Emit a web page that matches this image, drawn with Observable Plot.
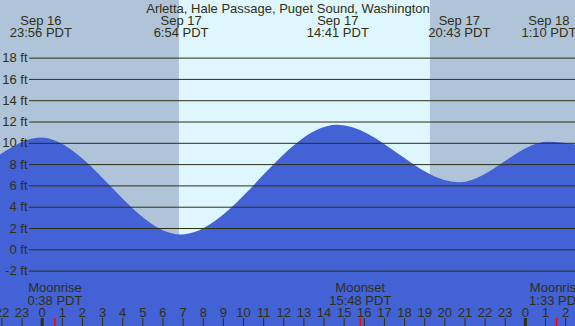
<!DOCTYPE html>
<html>
<head>
<meta charset="utf-8">
<script src="https://cdn.jsdelivr.net/npm/d3@7"></script>
<script src="https://cdn.jsdelivr.net/npm/@observablehq/plot@0.6"></script>
<style>
  html, body { margin: 0; padding: 0; background: #fff; }
  svg { display: block; }
</style>
</head>
<body>
<div id="chart"></div>
<script>
// ---- data (hours measured from Sep 17 00:00 PDT) ----
const title = "Arletta, Hale Passage, Puget Sound, Washington";

// tide curve readings: chart edges + highs/lows
const tideHours = [-2.07, -0.067, 6.9, 14.683, 20.717, 25.167, 26.49];
const tideFeet  = [8.9, 10.5, 1.4, 11.7, 6.3, 10.1, 9.85];

// labelled high/low events
const eventHours = [-0.067, 6.9, 14.683, 20.717, 25.167];
const eventDates = ["Sep 16", "Sep 17", "Sep 17", "Sep 17", "Sep 18"];
const eventTimes = ["23:56 PDT", "6:54 PDT", "14:41 PDT", "20:43 PDT", "1:10 PDT"];

// moon events
const moonHours = [0.633, 15.8, 25.55];
const moonNames = ["Moonrise", "Moonset", "Moonrise"];
const moonTimes = ["0:38 PDT", "15:48 PDT", "1:33 PDT"];

// sun (daylight band)
const sunriseHour = 6.833;
const sunsetHour = 19.283;

// axis
const xDomain = [-2.07, 26.49];
const yDomain = [-7.2, 23.41];
const yTicks = [-2, 0, 2, 4, 6, 8, 10, 12, 14, 16, 18];
const hourTicks = d3.range(-2, 27);
const midnights = [0, 24];

// ---- styles ----
const W = 575, H = 326;
const night = "#b0c4d9";
const day = "#def6fd";
const water = "#4262d6";
const ink = "#2f2f14";
const font = "'Liberation Sans', Arial, sans-serif";
const gutterPx = 29;

const xs = d3.scaleLinear().domain(xDomain).range([0, W]);
const gridStart = xs.invert(gutterPx);

const tide = tideHours.map((h, i) => ({h, ft: tideFeet[i]}));
const events = eventHours.map((h, i) => ({h, date: eventDates[i], time: eventTimes[i]}));
const moon = moonHours.map((h, i) => ({h, name: moonNames[i], time: moonTimes[i]}));
const shade = [
  {x1: xDomain[0], x2: sunriseHour, fill: night},
  {x1: sunriseHour, x2: sunsetHour, fill: day},
  {x1: sunsetHour, x2: xDomain[1], fill: night}
];
const hourLabel = h => String(((h % 24) + 24) % 24);

const baseDy = (baseline) => baseline - 0.71 * 13;

const chart = Plot.plot({
  width: W, height: H,
  margin: 0,
  style: {fontFamily: font, fontSize: "13px", background: "#fff", overflow: "hidden"},
  x: {domain: xDomain, axis: null},
  y: {domain: yDomain, axis: null},
  marks: [
    Plot.rectX(shade, {x1: "x1", x2: "x2", fill: d => d.fill}),
    Plot.areaY(tide, {x: "h", y1: yDomain[0], y2: "ft", curve: "monotone-x", fill: water}),
    Plot.ruleY(yTicks, {y: d => d, x1: gridStart, x2: xDomain[1], stroke: ink, strokeWidth: 1}),
    Plot.text(yTicks, {x: xDomain[0], y: d => d, text: d => d + " ft", textAnchor: "end", dx: 27, fill: ink, fontSize: 13}),
    // title
    Plot.text([title], {frameAnchor: "top", lineAnchor: "top", dy: baseDy(12.5), text: d => d, fill: ink, fontSize: 13}),
    // event labels
    Plot.text(events, {x: "h", frameAnchor: "top", lineAnchor: "top", dy: baseDy(24.5), text: "date", fill: ink, fontSize: 13}),
    Plot.text(events, {x: "h", frameAnchor: "top", lineAnchor: "top", dy: baseDy(36), text: "time", fill: ink, fontSize: 13}),
    // moon labels
    Plot.text(moon, {x: "h", frameAnchor: "top", lineAnchor: "top", dy: baseDy(291.7), text: "name", fill: ink, fontSize: 13}),
    Plot.text(moon, {x: "h", frameAnchor: "top", lineAnchor: "top", dy: baseDy(304.3), text: "time", fill: ink, fontSize: 13}),
    // hour labels
    Plot.text(hourTicks, {x: d => d, frameAnchor: "top", lineAnchor: "top", dy: baseDy(316.3), text: hourLabel, fill: ink, fontSize: 13}),
    // ticks
    Plot.ruleX(hourTicks, {x: d => d, insetTop: 318, stroke: ink, strokeWidth: 1}),
    Plot.ruleX(midnights, {x: d => d, insetTop: 318, stroke: ink, strokeWidth: 3}),
    Plot.ruleX(moon, {x: "h", insetTop: 318, stroke: "#ff0000", strokeWidth: 1.5})
  ]
});
document.getElementById("chart").appendChild(chart);
</script>
</body>
</html>
